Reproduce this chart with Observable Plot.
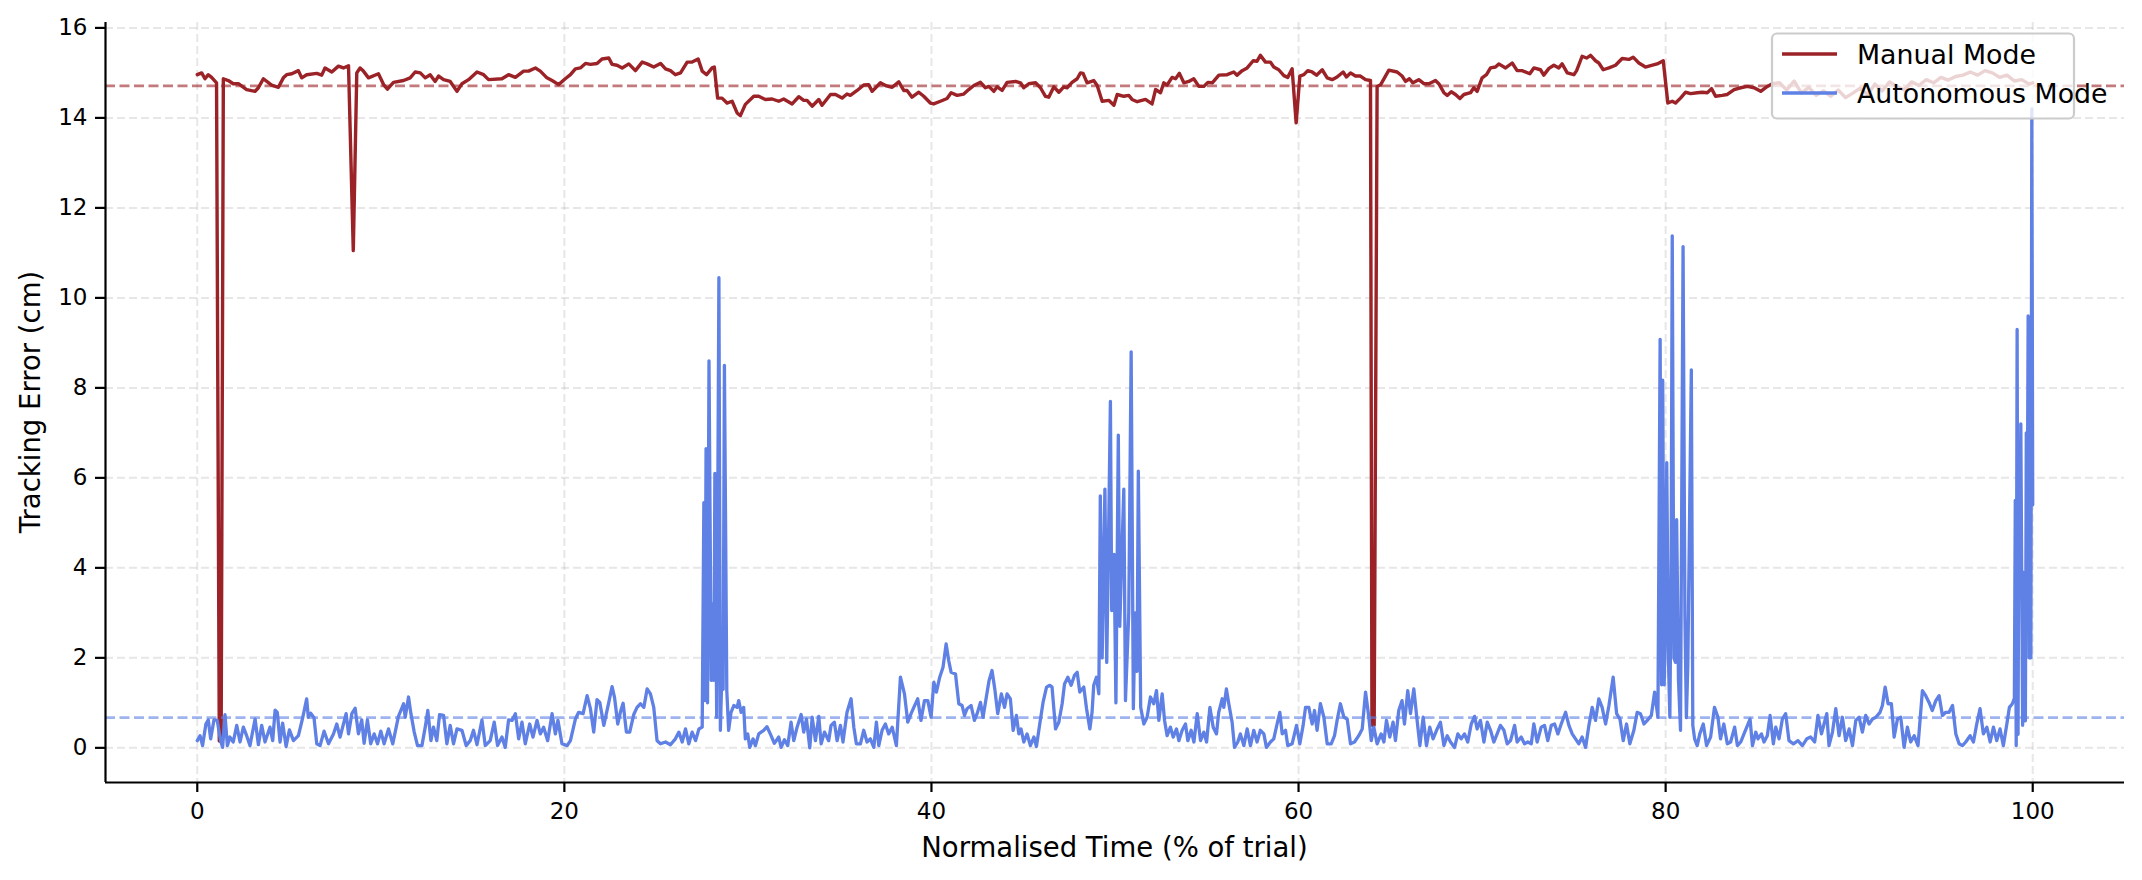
<!DOCTYPE html>
<html><head><meta charset="utf-8">
<script src="https://cdn.jsdelivr.net/npm/d3@7"></script>
<script src="https://cdn.jsdelivr.net/npm/@observablehq/plot@0.6"></script>
<style>body{margin:0;background:#fff;} svg text{font-family:"DejaVu Sans";}</style>
</head><body><div id="chart"></div>
<script>
const seriesNames = ["Manual Mode", "Autonomous Mode"];
const seriesColors = ["#9b2226", "#5f80e4"];
const xTicks = [0, 20, 40, 60, 80, 100];
const yTicks = [0, 2, 4, 6, 8, 10, 12, 14, 16];
const xDomain = [-5, 105];
const yDomain = [-0.77, 16.12];
const xLabel = "Normalised Time (% of trial)";
const yLabel = "Tracking Error (cm)";
const manualMean = 14.71;
const autoMean = 0.67;

const manual = [[0,14.96],[0.24,15.0],[0.42,14.87],[0.6,14.96],[0.78,14.9],[1.05,14.78],[1.2,0.15],[1.3,0.15],[1.42,14.87],[1.69,14.83],[1.96,14.76],[2.24,14.76],[2.69,14.63],[3.15,14.59],[3.33,14.67],[3.6,14.87],[4.05,14.73],[4.42,14.68],[4.69,14.89],[4.87,14.96],[5.15,14.98],[5.51,15.05],[5.69,14.89],[5.96,14.96],[6.51,14.99],[6.78,14.95],[6.96,15.11],[7.33,15.02],[7.69,15.15],[7.96,15.11],[8.24,15.16],[8.5,11.05],[8.69,15.0],[8.87,15.11],[9.05,15.04],[9.33,14.89],[9.87,14.98],[10.15,14.74],[10.36,14.64],[10.69,14.79],[11.24,14.83],[11.6,14.89],[11.87,15.02],[12.15,15.0],[12.42,14.89],[12.69,14.96],[12.96,14.81],[13.15,14.93],[13.42,14.85],[13.78,14.81],[14.15,14.59],[14.42,14.76],[14.78,14.85],[15.24,15.02],[15.6,14.96],[15.87,14.85],[16.6,14.87],[16.96,14.96],[17.33,14.9],[17.78,15.04],[18.05,15.04],[18.42,15.11],[18.69,15.04],[19.05,14.89],[19.33,14.83],[19.69,14.74],[20.05,14.87],[20.33,14.96],[20.6,15.09],[20.87,15.11],[21.15,15.21],[21.42,15.19],[21.78,15.21],[22.05,15.31],[22.42,15.33],[22.6,15.19],[22.87,15.17],[23.15,15.11],[23.51,15.2],[23.87,15.05],[24.24,15.24],[24.51,15.2],[24.87,15.13],[25.24,15.21],[25.51,15.09],[25.78,15.05],[26.05,14.96],[26.33,15.0],[26.69,15.24],[26.96,15.24],[27.29,15.31],[27.51,15.04],[27.75,14.96],[28.05,15.11],[28.17,15.13],[28.35,14.44],[28.59,14.44],[28.86,14.33],[29.14,14.37],[29.41,14.11],[29.59,14.05],[29.86,14.3],[30.32,14.48],[30.59,14.48],[30.95,14.41],[31.32,14.42],[31.68,14.37],[31.95,14.42],[32.41,14.31],[32.77,14.47],[33.04,14.39],[33.22,14.39],[33.5,14.26],[33.86,14.41],[34.04,14.28],[34.5,14.52],[34.77,14.52],[35.13,14.44],[35.4,14.53],[35.58,14.5],[35.95,14.61],[36.31,14.73],[36.58,14.74],[36.77,14.59],[37.22,14.78],[37.49,14.72],[37.86,14.68],[38.22,14.8],[38.49,14.61],[38.67,14.61],[38.94,14.46],[39.31,14.57],[39.58,14.48],[39.94,14.33],[40.12,14.31],[40.49,14.37],[40.85,14.43],[41.07,14.56],[41.4,14.5],[41.76,14.53],[42.03,14.63],[42.31,14.72],[42.67,14.79],[42.94,14.67],[43.12,14.7],[43.4,14.59],[43.58,14.69],[43.85,14.61],[44.12,14.79],[44.58,14.81],[44.85,14.78],[45.03,14.67],[45.3,14.76],[45.67,14.78],[45.94,14.67],[46.21,14.48],[46.39,14.46],[46.67,14.69],[46.94,14.57],[47.21,14.69],[47.39,14.67],[47.66,14.79],[47.94,14.87],[48.12,15.0],[48.26,14.99],[48.48,14.78],[48.84,14.83],[49.03,14.72],[49.3,14.37],[49.66,14.39],[49.94,14.28],[50.12,14.52],[50.48,14.48],[50.75,14.5],[50.93,14.41],[51.21,14.36],[51.66,14.41],[52.02,14.31],[52.21,14.63],[52.48,14.56],[52.66,14.78],[52.84,14.73],[53.11,14.9],[53.3,14.87],[53.51,14.99],[53.75,14.78],[54.02,14.81],[54.29,14.87],[54.57,14.7],[54.84,14.7],[55.06,14.79],[55.3,14.78],[55.66,14.95],[56.11,14.96],[56.47,15.02],[56.65,14.95],[56.93,15.05],[57.2,15.11],[57.53,15.27],[57.74,15.26],[57.92,15.39],[58.2,15.24],[58.47,15.24],[58.65,15.13],[58.92,15.07],[59.2,14.94],[59.41,14.9],[59.65,15.09],[59.87,13.89],[60.07,14.93],[60.29,14.96],[60.5,15.05],[60.74,15.02],[60.98,14.95],[61.29,15.07],[61.56,14.89],[61.83,14.85],[62.1,14.91],[62.43,15.02],[62.61,14.91],[62.83,15.0],[63.1,14.93],[63.37,14.93],[63.65,14.85],[63.92,14.83],[64.0,0.5],[64.12,0.5],[64.28,14.7],[64.46,14.73],[64.92,15.06],[65.37,15.02],[65.64,14.93],[65.83,14.81],[66.04,14.87],[66.23,14.78],[66.55,14.85],[66.83,14.76],[67.1,14.76],[67.46,14.83],[67.64,14.76],[67.92,14.56],[68.1,14.5],[68.32,14.58],[68.55,14.52],[68.79,14.43],[69.01,14.52],[69.37,14.56],[69.55,14.67],[69.73,14.59],[70.0,14.89],[70.24,14.96],[70.46,15.11],[70.73,15.13],[70.91,15.2],[71.28,15.11],[71.64,15.22],[71.91,15.05],[72.18,15.05],[72.6,14.98],[72.82,15.11],[73.18,15.07],[73.36,14.95],[73.64,15.1],[73.91,15.17],[74.18,15.11],[74.36,15.2],[74.64,15.0],[75.0,14.96],[75.15,15.05],[75.45,15.37],[75.69,15.33],[75.91,15.39],[76.18,15.27],[76.36,15.22],[76.6,15.07],[76.91,15.11],[77.27,15.17],[77.63,15.32],[78.0,15.3],[78.23,15.35],[78.54,15.22],[78.9,15.13],[79.18,15.16],[79.54,15.2],[79.87,15.27],[80.12,14.33],[80.36,14.37],[80.54,14.33],[80.81,14.44],[81.09,14.57],[81.36,14.54],[81.72,14.56],[81.99,14.57],[82.27,14.56],[82.5,14.65],[82.72,14.48],[83.08,14.5],[83.36,14.52],[83.73,14.63],[84.09,14.67],[84.45,14.7],[84.82,14.67],[85.18,14.59],[85.54,14.7],[85.82,14.76],[86.2,14.78],[86.6,14.62],[87.0,14.82],[87.4,14.55],[87.8,14.68],[88.2,14.5],[88.6,14.6],[89.0,14.48],[89.4,14.62],[89.8,14.45],[90.2,14.55],[90.6,14.66],[91.0,14.52],[91.4,14.75],[91.8,14.6],[92.2,14.8],[92.6,14.7],[93.0,14.62],[93.4,14.8],[93.8,14.72],[94.2,14.85],[94.6,14.78],[95.0,14.9],[95.4,14.84],[95.8,14.92],[96.2,14.95],[96.6,15.02],[97.0,14.95],[97.4,15.05],[97.8,15.0],[98.2,14.9],[98.6,14.95],[99.0,14.82],[99.4,14.85],[99.8,14.75],[100,14.78]];

const autonomous = [[0,0.16],[0.15,0.27],[0.29,0.05],[0.47,0.53],[0.6,0.62],[0.73,0.2],[0.91,0.62],[1.09,0.61],[1.27,0.16],[1.38,0.01],[1.51,0.74],[1.64,0.05],[1.78,0.24],[1.96,0.13],[2.15,0.5],[2.33,0.13],[2.51,0.46],[2.69,0.27],[2.87,0.05],[3.15,0.64],[3.33,0.07],[3.51,0.5],[3.69,0.13],[3.96,0.46],[4.11,0.16],[4.24,0.84],[4.36,0.79],[4.51,0.13],[4.65,0.55],[4.84,0.03],[5.02,0.4],[5.24,0.16],[5.51,0.27],[5.75,0.68],[5.96,1.09],[6.05,0.68],[6.18,0.77],[6.36,0.67],[6.51,0.09],[6.69,0.05],[6.91,0.37],[7.15,0.09],[7.42,0.31],[7.6,0.53],[7.78,0.24],[8.11,0.76],[8.24,0.31],[8.42,0.76],[8.6,0.88],[8.78,0.31],[8.96,0.62],[9.09,0.1],[9.27,0.62],[9.45,0.09],[9.64,0.31],[9.82,0.09],[10.0,0.37],[10.18,0.09],[10.42,0.42],[10.65,0.09],[10.96,0.7],[11.24,0.98],[11.33,0.68],[11.51,1.13],[11.64,0.76],[11.82,0.35],[12.0,0.05],[12.24,0.05],[12.42,0.46],[12.56,0.83],[12.73,0.16],[12.87,0.46],[13.05,0.16],[13.2,0.74],[13.42,0.72],[13.6,0.09],[13.78,0.5],[13.96,0.09],[14.15,0.42],[14.42,0.39],[14.65,0.05],[14.87,0.16],[15.05,0.39],[15.24,0.07],[15.51,0.62],[15.69,0.05],[15.96,0.16],[16.18,0.57],[16.36,0.05],[16.6,0.24],[16.78,0.01],[16.96,0.62],[17.15,0.61],[17.33,0.76],[17.51,0.2],[17.69,0.57],[17.87,0.09],[18.11,0.53],[18.29,0.24],[18.51,0.61],[18.69,0.31],[18.87,0.46],[19.09,0.16],[19.33,0.76],[19.51,0.31],[19.65,0.61],[19.87,0.09],[20.15,0.05],[20.33,0.16],[20.6,0.64],[20.78,0.79],[21.02,0.76],[21.24,1.16],[21.42,0.87],[21.6,0.35],[21.78,1.07],[21.93,1.01],[22.15,0.5],[22.42,1.01],[22.6,1.36],[22.73,1.13],[22.91,0.53],[23.05,0.79],[23.2,0.99],[23.38,0.35],[23.56,0.35],[23.78,0.74],[23.96,0.9],[24.15,0.98],[24.33,0.9],[24.51,1.31],[24.69,1.2],[24.87,0.9],[25.05,0.16],[25.24,0.09],[25.51,0.13],[25.78,0.07],[26.05,0.2],[26.24,0.35],[26.42,0.13],[26.6,0.42],[26.78,0.09],[26.96,0.35],[27.15,0.16],[27.33,0.42],[27.51,0.46],[27.6,5.45],[27.66,1.05],[27.72,6.65],[27.8,1.0],[27.88,8.6],[28.0,1.5],[28.08,3.2],[28.15,1.5],[28.2,6.1],[28.3,0.68],[28.42,10.45],[28.5,0.39],[28.58,1.64],[28.65,1.3],[28.72,8.5],[28.85,1.27],[28.95,0.39],[29.08,0.79],[29.23,0.94],[29.41,0.9],[29.5,1.05],[29.63,0.79],[29.77,0.9],[29.86,0.2],[29.99,0.31],[30.1,0.01],[30.28,0.2],[30.41,0.05],[30.59,0.31],[30.86,0.39],[31.04,0.47],[31.22,0.31],[31.44,0.1],[31.68,0.24],[31.81,0.01],[31.99,0.18],[32.17,0.05],[32.35,0.57],[32.5,0.16],[32.68,0.46],[32.9,0.74],[33.04,0.35],[33.19,0.64],[33.37,0.0],[33.5,0.68],[33.68,0.16],[33.86,0.7],[33.99,0.09],[34.17,0.35],[34.4,0.16],[34.53,0.5],[34.71,0.57],[34.86,0.16],[35.04,0.5],[35.18,0.13],[35.4,0.79],[35.62,1.09],[35.77,0.46],[35.91,0.09],[36.13,0.09],[36.31,0.39],[36.49,0.13],[36.67,0.2],[36.86,0.01],[37.0,0.57],[37.13,0.05],[37.31,0.39],[37.49,0.53],[37.67,0.31],[37.86,0.46],[38.09,0.05],[38.31,1.57],[38.53,1.2],[38.71,0.57],[38.89,0.76],[39.04,0.9],[39.25,1.09],[39.43,0.61],[39.62,1.05],[39.8,1.05],[39.98,0.68],[40.13,1.46],[40.27,1.24],[40.45,1.57],[40.63,1.79],[40.8,2.31],[40.94,1.94],[41.07,1.68],[41.31,1.64],[41.49,0.98],[41.67,0.94],[41.8,0.72],[41.94,0.87],[42.16,0.94],[42.34,0.61],[42.49,0.76],[42.67,1.01],[42.81,0.68],[42.99,1.13],[43.14,1.5],[43.3,1.72],[43.45,1.31],[43.61,0.76],[43.81,1.2],[43.98,0.9],[44.12,1.2],[44.3,1.09],[44.45,0.39],[44.63,0.72],[44.76,0.31],[44.88,0.42],[45.03,0.13],[45.21,0.31],[45.39,0.05],[45.58,0.24],[45.72,0.03],[45.9,0.53],[46.08,1.01],[46.27,1.35],[46.45,1.39],[46.57,1.35],[46.76,0.42],[46.94,0.57],[47.12,0.98],[47.25,1.42],[47.43,1.57],[47.61,1.39],[47.79,1.61],[47.94,1.68],[48.08,1.24],[48.3,1.35],[48.45,0.87],[48.63,0.42],[48.75,0.79],[48.84,1.39],[48.99,1.57],[49.12,1.2],[49.2,5.6],[49.3,2.0],[49.45,5.75],[49.55,1.9],[49.62,3.8],[49.75,7.7],[49.82,3.05],[49.95,4.3],[50.05,1.0],[50.18,6.95],[50.26,2.7],[50.35,4.0],[50.48,5.75],[50.57,1.05],[50.75,3.0],[50.88,8.8],[51.0,0.87],[51.1,3.0],[51.2,1.7],[51.27,6.15],[51.4,0.9],[51.57,0.53],[51.75,0.68],[51.93,1.13],[52.11,0.98],[52.26,1.27],[52.39,0.61],[52.57,1.2],[52.7,0.61],[52.84,0.27],[53.02,0.46],[53.17,0.24],[53.35,0.42],[53.48,0.16],[53.66,0.39],[53.84,0.53],[53.97,0.16],[54.15,0.39],[54.3,0.13],[54.48,0.76],[54.66,0.16],[54.84,0.35],[54.99,0.13],[55.17,0.9],[55.35,0.46],[55.53,0.31],[55.65,0.79],[55.84,1.09],[55.93,0.9],[56.07,1.31],[56.2,0.98],[56.38,0.57],[56.51,0.01],[56.69,0.13],[56.83,0.31],[57.02,0.05],[57.2,0.42],[57.38,0.05],[57.56,0.39],[57.74,0.13],[57.92,0.39],[58.11,0.31],[58.25,0.01],[58.47,0.13],[58.65,0.2],[58.83,0.53],[58.98,0.79],[59.11,0.31],[59.29,0.39],[59.41,0.05],[59.65,0.09],[59.89,0.5],[60.07,0.09],[60.25,0.5],[60.38,0.9],[60.56,0.9],[60.74,0.53],[60.87,0.83],[61.01,0.39],[61.19,0.98],[61.38,0.68],[61.56,0.09],[61.78,0.09],[61.96,0.27],[62.1,0.61],[62.28,0.98],[62.47,0.68],[62.65,0.64],[62.83,0.09],[63.05,0.13],[63.28,0.27],[63.47,0.42],[63.65,1.24],[63.83,0.68],[63.96,0.16],[64.1,0.46],[64.28,0.09],[64.5,0.31],[64.65,0.13],[64.79,0.61],[64.97,0.24],[65.15,0.57],[65.28,0.16],[65.46,0.83],[65.64,1.05],[65.77,0.53],[65.95,1.27],[66.1,0.76],[66.28,1.31],[66.43,0.72],[66.61,0.05],[66.79,0.68],[66.97,0.05],[67.15,0.46],[67.33,0.2],[67.52,0.39],[67.73,0.57],[67.92,0.05],[68.1,0.27],[68.28,0.13],[68.5,0.01],[68.68,0.31],[68.86,0.2],[69.04,0.31],[69.22,0.13],[69.41,0.53],[69.59,0.7],[69.73,0.42],[69.91,0.61],[70.1,0.13],[70.28,0.57],[70.46,0.39],[70.64,0.13],[70.82,0.31],[71.0,0.5],[71.19,0.39],[71.37,0.09],[71.55,0.16],[71.77,0.5],[71.91,0.13],[72.13,0.24],[72.31,0.09],[72.49,0.13],[72.68,0.09],[72.82,0.53],[73.0,0.13],[73.22,0.46],[73.4,0.5],[73.58,0.16],[73.77,0.5],[73.95,0.53],[74.13,0.31],[74.31,0.53],[74.55,0.79],[74.73,0.5],[74.91,0.31],[75.09,0.2],[75.27,0.09],[75.45,0.24],[75.64,0.01],[75.82,0.5],[76.0,0.9],[76.18,0.61],[76.36,1.09],[76.54,0.9],[76.73,0.53],[76.91,0.94],[77.14,1.57],[77.33,0.76],[77.51,0.64],[77.69,0.16],[77.87,0.53],[78.05,0.09],[78.27,0.39],[78.45,0.79],[78.63,0.76],[78.82,0.53],[79.0,0.61],[79.22,0.72],[79.4,1.24],[79.58,0.68],[79.7,9.08],[79.78,1.4],[79.84,8.17],[79.92,1.4],[80.0,3.05],[80.06,6.34],[80.15,2.0],[80.23,0.68],[80.3,4.0],[80.36,11.38],[80.45,2.0],[80.54,1.9],[80.6,5.07],[80.7,1.5],[80.81,0.39],[80.95,11.14],[81.05,2.95],[81.13,0.67],[81.21,1.87],[81.4,8.4],[81.48,0.5],[81.58,0.2],[81.72,0.05],[81.86,0.31],[82.05,0.53],[82.23,0.05],[82.45,0.24],[82.66,0.9],[82.85,0.68],[82.99,0.2],[83.17,0.53],[83.36,0.09],[83.54,0.13],[83.76,0.46],[83.91,0.05],[84.09,0.13],[84.27,0.31],[84.42,0.46],[84.6,0.64],[84.73,0.05],[84.91,0.35],[85.03,0.2],[85.22,0.31],[85.36,0.13],[85.54,0.27],[85.69,0.72],[85.87,0.09],[86.0,0.46],[86.18,0.2],[86.36,0.64],[86.54,0.76],[86.72,0.16],[86.96,0.09],[87.21,0.16],[87.45,0.05],[87.69,0.2],[87.9,0.24],[88.12,0.13],[88.3,0.72],[88.49,0.31],[88.63,0.53],[88.78,0.76],[88.9,0.05],[89.09,0.35],[89.27,0.87],[89.45,0.27],[89.63,0.68],[89.81,0.16],[90.0,0.42],[90.18,0.05],[90.36,0.61],[90.54,0.68],[90.72,0.35],[90.9,0.72],[91.08,0.53],[91.27,0.64],[91.45,0.68],[91.68,0.79],[91.81,0.94],[91.96,1.35],[92.12,0.98],[92.3,0.98],[92.45,0.24],[92.63,0.64],[92.81,0.68],[92.99,0.01],[93.17,0.46],[93.35,0.13],[93.54,0.27],[93.75,0.05],[93.99,1.27],[94.17,1.16],[94.35,1.01],[94.53,0.83],[94.72,1.05],[94.9,1.16],[95.08,0.72],[95.26,0.79],[95.44,0.79],[95.63,0.94],[95.81,0.31],[95.99,0.09],[96.17,0.05],[96.35,0.13],[96.59,0.27],[96.77,0.13],[96.95,0.53],[97.13,0.87],[97.31,0.31],[97.5,0.46],[97.68,0.13],[97.86,0.46],[98.04,0.16],[98.22,0.42],[98.4,0.05],[98.59,0.53],[98.73,0.9],[98.89,0.98],[99.0,1.1],[99.05,5.5],[99.1,0.05],[99.15,9.3],[99.2,0.3],[99.25,6.0],[99.3,3.6],[99.35,7.2],[99.45,0.5],[99.5,3.9],[99.6,0.6],[99.65,7.0],[99.7,4.5],[99.75,9.6],[99.8,2.0],[99.85,7.5],[99.9,2.0],[99.95,14.2],[100,5.4]];

const W = 2142, H = 880;
const mL = 105, mR = 18, mT = 22, mB = 98;

const chart = Plot.plot({
  width: W, height: H,
  marginLeft: mL, marginRight: mR, marginTop: mT, marginBottom: mB,
  style: {fontFamily: "DejaVu Sans", fontSize: "23px", background: "white", color: "black", overflow: "visible"},
  x: {domain: xDomain},
  y: {domain: yDomain},
  marks: [
    Plot.gridX(xTicks, {stroke: "#b0b0b0", strokeOpacity: 0.3, strokeWidth: 2, strokeDasharray: "8,4"}),
    Plot.gridY(yTicks, {stroke: "#b0b0b0", strokeOpacity: 0.3, strokeWidth: 2, strokeDasharray: "8,4"}),
    Plot.line(manual, {x: d => d[0], y: d => d[1], stroke: seriesColors[0], strokeWidth: 3.4, strokeLinejoin: "round"}),
    Plot.line(autonomous, {x: d => d[0], y: d => d[1], stroke: seriesColors[1], strokeWidth: 3.3, strokeLinejoin: "round"}),
    Plot.ruleY([manualMean], {stroke: seriesColors[0], strokeOpacity: 0.6, strokeWidth: 2.8, strokeDasharray: "10,4.5"}),
    Plot.ruleY([autoMean], {stroke: seriesColors[1], strokeOpacity: 0.6, strokeWidth: 2.8, strokeDasharray: "10,4.5"}),
    Plot.axisX(xTicks, {tickSize: 10, tickPadding: 10, strokeWidth: 2.2, fontSize: 23, label: null}),
    Plot.axisY(yTicks, {tickSize: 10, tickPadding: 8, strokeWidth: 2.2, fontSize: 23, label: null}),
    Plot.ruleX([xDomain[0]], {stroke: "black", strokeWidth: 2.2}),
    Plot.ruleY([yDomain[0]], {stroke: "black", strokeWidth: 2.2})
  ]
});

const NS = "http://www.w3.org/2000/svg";
function el(parent, tag, attrs, text) {
  const e = document.createElementNS(NS, tag);
  for (const k in attrs) e.setAttribute(k, attrs[k]);
  if (text != null) e.textContent = text;
  parent.appendChild(e);
  return e;
}

// axis labels
el(chart, "text", {x: mL + (W - mL - mR) / 2, y: 857, "text-anchor": "middle", "font-size": 27.5, fill: "black"}, xLabel);
el(chart, "text", {transform: `translate(40,${mT + (H - mT - mB) / 2}) rotate(-90)`, "text-anchor": "middle", "font-size": 27.5, fill: "black"}, yLabel);

// legend (framed, semi-transparent like matplotlib)
const lg = el(chart, "g", {});
el(lg, "rect", {x: 1772, y: 33.5, width: 302, height: 85, rx: 5, fill: "white", "fill-opacity": 0.8, stroke: "#cccccc", "stroke-width": 2.2});
seriesNames.forEach((name, i) => {
  const yy = 54 + i * 39;
  el(lg, "path", {d: `M1782,${yy}H1837`, fill: "none", stroke: seriesColors[i], "stroke-width": 3.4});
  el(lg, "text", {x: 1857, y: yy + 10, "text-anchor": "start", "font-size": 26.8, fill: "black"}, name);
});

document.getElementById("chart").appendChild(chart);
</script>
</body></html>
